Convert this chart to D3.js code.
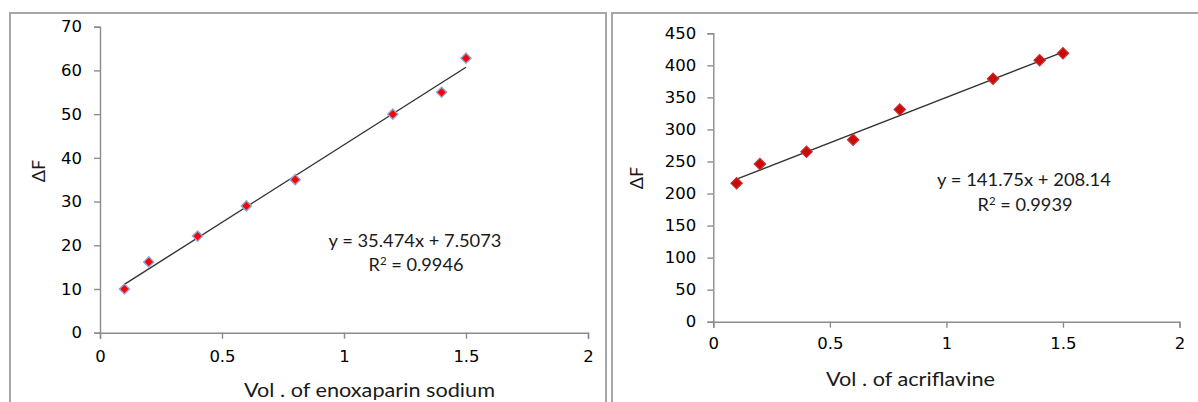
<!DOCTYPE html>
<html>
<head>
<meta charset="utf-8">
<script src="https://cdn.jsdelivr.net/npm/d3@7"></script>
<style>
  html, body { margin: 0; padding: 0; background: #fff; }
  svg { display: block; }
</style>
</head>
<body>
<svg id="chart" width="1198" height="402"></svg>
<script>
// ---------- data ----------
const volEnox = [0.1, 0.2, 0.4, 0.6, 0.8, 1.2, 1.4, 1.5];
const dFEnox = [10, 16.2, 22.1, 29, 35, 50, 55, 62.8];
const fitEnox = { slope: 35.474, intercept: 7.5073, r2: "0.9946" };

const volAcri = [0.1, 0.2, 0.4, 0.6, 0.8, 1.2, 1.4, 1.5];
const dFAcri = [216, 246, 265, 284, 331, 379, 408, 419];
const fitAcri = { slope: 141.75, intercept: 208.14, r2: "0.9939" };

const xTicks = [0, 0.5, 1, 1.5, 2];
const yTicksEnox = [0, 10, 20, 30, 40, 50, 60, 70];
const yTicksAcri = [0, 50, 100, 150, 200, 250, 300, 350, 400, 450];

const xTitleEnox = "Vol . of enoxaparin sodium";
const xTitleAcri = "Vol . of acriflavine";
const yTitle = "ΔF";

// ---------- drawing ----------
const svg = d3.select("#chart");
const fmt = d => (d === 0 ? "0" : String(d));

function panel(cfg) {
  const g = svg.append("g");
  // frame
  g.append("rect")
    .attr("x", cfg.frame[0]).attr("y", cfg.frame[1])
    .attr("width", cfg.frame[2]).attr("height", cfg.frame[3])
    .attr("fill", "none").attr("stroke", "#a6a6a6").attr("stroke-width", 2);

  const x = d3.scaleLinear().domain([0, 2]).range([cfg.x0, cfg.x1]);
  const y = d3.scaleLinear().domain([0, cfg.yMax]).range([cfg.y0, cfg.y1]);

  const yAxis = g.append("g")
    .attr("transform", `translate(${cfg.x0},0)`)
    .call(d3.axisLeft(y).tickValues(cfg.yTicks).tickFormat(fmt)
      .tickSizeInner(6).tickSizeOuter(6).tickPadding(cfg.yPad));
  const xAxis = g.append("g")
    .attr("transform", `translate(0,${cfg.y0})`)
    .call(d3.axisBottom(x).tickValues(xTicks).tickFormat(fmt)
      .tickSizeInner(6).tickSizeOuter(6).tickPadding(cfg.xPad));

  [yAxis, xAxis].forEach(a => {
    a.select(".domain").attr("stroke", "#8c8c8c").attr("stroke-width", 1.4);
    a.selectAll(".tick line").attr("stroke", "#8c8c8c").attr("stroke-width", 1.4);
    a.selectAll(".tick text")
      .attr("fill", "#000")
      .style("font-family", "'DejaVu Sans', Verdana, sans-serif")
      .style("font-size", "16.5px");
  });

  // trend line
  const xs = d3.extent(cfg.xs);
  g.append("line")
    .attr("x1", x(xs[0])).attr("y1", y(cfg.fit.slope * xs[0] + cfg.fit.intercept))
    .attr("x2", x(xs[1])).attr("y2", y(cfg.fit.slope * xs[1] + cfg.fit.intercept))
    .attr("stroke", "#333").attr("stroke-width", 1.4);

  // markers
  const sym = d3.symbol(d3.symbolSquare, cfg.mSize);
  g.selectAll("path.pt")
    .data(cfg.xs.map((v, i) => [v, cfg.ys[i]]))
    .join("path")
    .attr("class", "pt")
    .attr("d", sym)
    .attr("transform", d => `translate(${x(d[0])},${y(d[1])}) rotate(45)`)
    .attr("fill", cfg.mFill)
    .attr("stroke", cfg.mStroke)
    .attr("stroke-width", cfg.mStrokeW);

  const txt = (sx, sy, size, tl) => {
    const t = g.append("text")
      .attr("x", sx).attr("y", sy)
      .attr("text-anchor", "middle")
      .attr("fill", "#1a1a1a")
      .style("font-family", "Lato, 'Open Sans', sans-serif")
      .style("font-size", size + "px");
    if (tl) t.attr("textLength", tl).attr("lengthAdjust", "spacingAndGlyphs");
    return t;
  };

  // equation
  const eq = `y = ${cfg.fit.slope}x + ${cfg.fit.intercept}`;
  txt(cfg.eqX, cfg.eqY, 17.5, cfg.eqW).text(eq);
  const r = txt(cfg.eqX + 1, cfg.eqY + 24.5, 17.5, 95);
  r.append("tspan").text("R");
  r.append("tspan").attr("dy", -6).style("font-size", "11px").text("2");
  r.append("tspan").attr("dy", 6).text(" = " + cfg.fit.r2);

  // axis titles
  txt((cfg.titleL + cfg.titleR) / 2, cfg.titleY, 19.5, cfg.titleR - cfg.titleL).text(cfg.xTitle);
  g.append("text")
    .attr("transform", `translate(${cfg.yTitleX},${cfg.yTitleY}) rotate(-90)`)
    .attr("text-anchor", "middle")
    .attr("fill", "#1a1a1a")
    .style("font-family", "Lato, 'Open Sans', sans-serif")
    .style("font-size", "18px")
    .text(yTitle);
}

panel({
  frame: [10, 13, 596, 420],
  x0: 100, x1: 588, y0: 332.7, y1: 26.7, yMax: 70,
  yTicks: yTicksEnox, yPad: 12, xPad: 12,
  xs: volEnox, ys: dFEnox, fit: fitEnox,
  mSize: 52, mFill: "#ff0000", mStroke: "#8fa6db", mStrokeW: 1.4,
  eqX: 415, eqY: 246.5, eqW: 173,
  xTitle: xTitleEnox, titleL: 244, titleR: 495, titleY: 397,
  yTitleX: 45, yTitleY: 171
});

panel({
  frame: [612, 13, 620, 420],
  x0: 713.3, x1: 1179.5, y0: 321.7, y1: 33.3, yMax: 450,
  yTicks: yTicksAcri, yPad: 11, xPad: 10,
  xs: volAcri, ys: dFAcri, fit: fitAcri,
  mSize: 64, mFill: "#cc0a0a", mStroke: "#c43030", mStrokeW: 1.2,
  eqX: 1024, eqY: 186, eqW: 174,
  xTitle: xTitleAcri, titleL: 826, titleR: 995, titleY: 386,
  yTitleX: 643, yTitleY: 178
});
</script>
</body>
</html>
